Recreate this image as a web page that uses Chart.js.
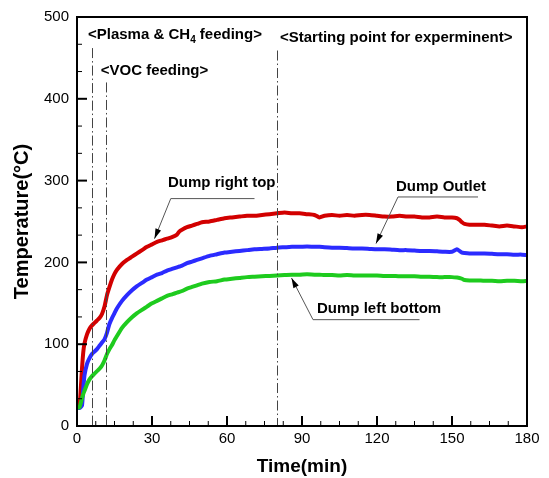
<!DOCTYPE html>
<html>
<head>
<meta charset="utf-8">
<script src="https://cdn.jsdelivr.net/npm/chart.js@4.4.0/dist/chart.umd.min.js"></script>
<style>
  html, body { margin: 0; padding: 0; background: #fff; }
  #wrap { width: 549px; height: 478px; }
</style>
</head>
<body>
<div id="wrap"><canvas id="tempChart"></canvas></div>
<script>
// dati
const times = [0, 1, 1.5, 2, 2.5, 3, 4, 5, 6, 7, 8, 9, 10, 11, 12, 13, 14, 15, 16, 18, 20, 22, 24, 26, 28, 30,
  32, 34, 36, 38, 40, 41, 42, 44, 46, 48, 50, 53, 56, 59, 62, 65, 68, 71, 74, 77, 80, 83, 86, 89, 92, 95, 97, 99,
  102, 105, 108, 111, 114, 117, 120, 123, 126, 129, 132, 135, 138, 141, 144, 147, 150, 152, 153, 154, 155, 157,
  160, 163, 166, 169, 172, 175, 178, 180];

const rightTop = [23, 26, 45, 70, 90, 101, 112, 119, 123, 126, 129, 132, 137, 146, 160, 170, 179, 186, 191, 198, 203, 207, 211, 215, 219, 222,
  225, 227, 229, 231, 234, 238, 240, 243, 245, 247, 249, 250, 252, 254, 255, 256, 257, 257, 258, 259, 260, 261, 260, 260, 259, 258, 255, 257,
  258, 257, 258, 257, 258, 258, 257, 256, 256, 257, 256, 256, 255, 255, 256, 255, 255, 254, 252, 249, 247, 246,
  246, 246, 245, 244, 245, 244, 243, 244];

const outlet = [22, 22, 23, 25, 45, 62, 76, 83, 88, 91, 94, 98, 102, 106, 114, 125, 132, 138, 144, 153, 160, 166, 171, 175, 179, 182,
  185, 187, 190, 192, 194, 195, 196, 199, 201, 203, 205, 208, 210, 212, 213, 214, 215, 216, 216.5, 217, 218, 218.5, 219, 219, 219.5, 219, 219, 218.5,
  218, 218, 217.5, 217, 217, 216.5, 216, 216, 215.5, 215, 215, 214.5, 214, 214, 213.5, 213, 213, 216, 214, 212, 211.5, 211,
  211, 211, 210.5, 210, 210, 209.5, 209.5, 209];

const leftBottom = [22, 23, 28, 34, 39, 43, 51, 57, 61, 64, 67, 70, 74, 80, 88, 94, 99, 105, 110, 120, 127, 133, 138, 142, 146, 150,
  153, 156, 159, 161, 163, 164, 165, 168, 170, 172, 174, 176, 177, 179, 180, 181, 182, 182.5, 183, 183.5, 184, 184.5, 185, 185, 185.5, 185, 185, 184.5,
  184.5, 184, 184.5, 184, 184, 184, 184, 183.5, 183.5, 183, 183, 183, 182.5, 182.5, 182, 182, 182, 181.5, 181, 180, 178.5, 178,
  178, 177.5, 177.5, 177, 177.5, 177.5, 177, 177.5];

const xTicks = [0, 30, 60, 90, 120, 150, 180];
const yTicks = [0, 100, 200, 300, 400, 500];

// linee tratto-punto: tempo e quota superiore
const markerTimes = [6, 11.6, 80];
const markerTops = [462, 420, 459];

const FONT = '"Liberation Sans", Arial, sans-serif';

function pts(vals) {
  return times.map((t, i) => ({ x: t, y: vals[i] }));
}

const decorPlugin = {
  id: 'decor',
  afterDatasetsDraw(chart) {
    const ctx = chart.ctx;
    const xs = chart.scales.x, ys = chart.scales.y;
    const a = chart.chartArea;
    const X = v => xs.getPixelForValue(v);
    const Y = v => ys.getPixelForValue(v);

    ctx.save();
    // linee verticali tratto-punto
    ctx.strokeStyle = '#444';
    ctx.lineWidth = 1;
    ctx.setLineDash([10, 3, 1.5, 3]);
    markerTimes.forEach((t, i) => {
      const px = Math.round(X(t)) + 0.5;
      ctx.beginPath();
      ctx.moveTo(px, Y(markerTops[i]));
      ctx.lineTo(px, a.bottom);
      ctx.stroke();
    });
    ctx.setLineDash([]);

    // tacche interne
    ctx.strokeStyle = '#000';
    for (let t = 0; t <= 180; t += 7.5) {
      const major = t % 30 === 0;
      const px = X(t);
      ctx.beginPath();
      ctx.moveTo(px, a.bottom);
      ctx.lineTo(px, a.bottom - (major ? 10 : 5));
      ctx.lineWidth = major ? 2 : 1;
      ctx.stroke();
    }
    for (let k = 0; k <= 15; k++) {
      const v = k * 100 / 3;
      const major = k % 3 === 0;
      const py = Y(v);
      ctx.beginPath();
      ctx.moveTo(a.left, py);
      ctx.lineTo(a.left + (major ? 10 : 5), py);
      ctx.lineWidth = major ? 2 : 1;
      ctx.stroke();
    }

    // cornice
    ctx.lineWidth = 2;
    ctx.strokeRect(a.left, a.top, a.right - a.left, a.bottom - a.top);

    // testi
    ctx.fillStyle = '#000';
    ctx.textBaseline = 'middle';
    ctx.textAlign = 'left';
    ctx.font = 'bold 15px ' + FONT;
    let x0 = X(4.4), y0 = Y(478);
    let s1 = '<Plasma & CH';
    ctx.fillText(s1, x0, y0);
    let w = ctx.measureText(s1).width;
    ctx.font = 'bold 10px ' + FONT;
    ctx.fillText('4', x0 + w, y0 + 5);
    let w2 = ctx.measureText('4').width;
    ctx.font = 'bold 15px ' + FONT;
    ctx.fillText(' feeding>', x0 + w + w2, y0);

    ctx.fillText('<VOC feeding>', X(9.5), Y(434));
    ctx.fillText('<Starting point for experminent>', X(81.2), Y(474));

    // etichette con freccia
    const labels = [
      { text: 'Dump right top', tx: 36.4, ty: 297, lx1: 37.5, lx2: 71, ly: 278, ax: 31, ay: 229 },
      { text: 'Dump Outlet', tx: 127.6, ty: 292, lx1: 128.4, lx2: 160.4, ly: 280, ax: 119.6, ay: 223 },
      { text: 'Dump left bottom', tx: 96, ty: 143, lx1: 94.4, lx2: 137, ly: 130, ax: 85.8, ay: 181 }
    ];
    labels.forEach(l => {
      ctx.font = 'bold 15px ' + FONT;
      ctx.fillStyle = '#000';
      ctx.fillText(l.text, X(l.tx), Y(l.ty));
      ctx.strokeStyle = '#555';
      ctx.lineWidth = 1;
      const sx = X(l.lx1), sy = Y(l.ly);
      const ex = X(l.ax), ey = Y(l.ay);
      ctx.beginPath();
      ctx.moveTo(X(l.lx2), sy);
      ctx.lineTo(sx, sy);
      ctx.lineTo(ex, ey);
      ctx.stroke();
      // punta
      const ang = Math.atan2(ey - sy, ex - sx);
      const len = 10, half = 3;
      ctx.fillStyle = '#000';
      ctx.beginPath();
      ctx.moveTo(ex, ey);
      ctx.lineTo(ex - len * Math.cos(ang) + half * Math.sin(ang), ey - len * Math.sin(ang) - half * Math.cos(ang));
      ctx.lineTo(ex - len * Math.cos(ang) - half * Math.sin(ang), ey - len * Math.sin(ang) + half * Math.cos(ang));
      ctx.closePath();
      ctx.fill();
    });
    ctx.restore();
  }
};

const lineStyle = { borderWidth: 4, pointRadius: 0, fill: false, tension: 0.2 };

new Chart(document.getElementById('tempChart'), {
  type: 'line',
  data: {
    datasets: [
      Object.assign({ label: 'Dump left bottom', data: pts(leftBottom), borderColor: '#1ecb1e' }, lineStyle),
      Object.assign({ label: 'Dump Outlet', data: pts(outlet), borderColor: '#2b2bff' }, lineStyle),
      Object.assign({ label: 'Dump right top', data: pts(rightTop), borderColor: '#d20000' }, lineStyle)
    ]
  },
  options: {
    responsive: true,
    maintainAspectRatio: false,
    animation: false,
    events: [],
    layout: { padding: { top: 17, right: 22, left: 0, bottom: 0 } },
    plugins: { legend: { display: false }, tooltip: { enabled: false } },
    scales: {
      x: {
        type: 'linear', min: 0, max: 180,
        afterBuildTicks: s => { s.ticks = xTicks.map(v => ({ value: v })); },
        afterFit: s => { s.height = 52; },
        grid: { display: false, drawTicks: false },
        border: { display: false },
        ticks: { color: '#000', font: { family: FONT, size: 15 }, padding: 4, maxRotation: 0 },
        title: { display: true, text: 'Time(min)', color: '#000', font: { family: FONT, size: 19, weight: 'bold' }, padding: { top: 0, bottom: 0 } }
      },
      y: {
        type: 'linear', min: 0, max: 500,
        afterBuildTicks: s => { s.ticks = yTicks.map(v => ({ value: v })); },
        afterFit: s => { s.width = 77; },
        grid: { display: false, drawTicks: false },
        border: { display: false },
        ticks: { color: '#000', font: { family: FONT, size: 15 }, padding: 8 },
        title: { display: true, text: 'Temperature(°C)', color: '#000', font: { family: FONT, size: 20, weight: 'bold' }, padding: { top: 10, bottom: 0 } }
      }
    }
  },
  plugins: [decorPlugin]
});
</script>
</body>
</html>
